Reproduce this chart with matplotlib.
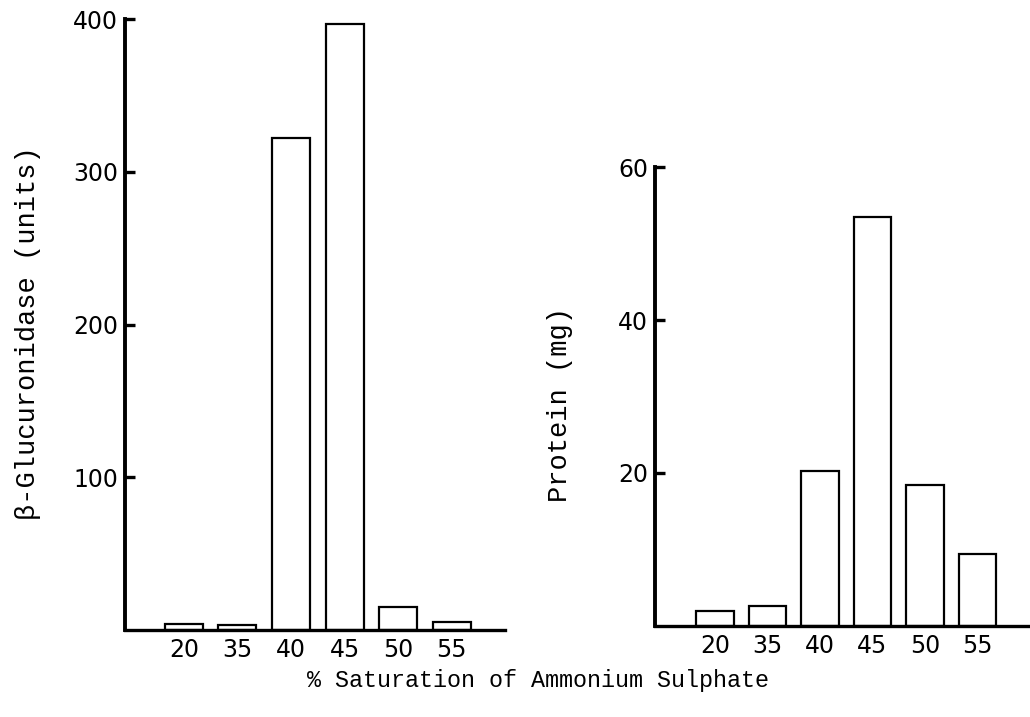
import matplotlib
matplotlib.use("Agg")
import matplotlib.pyplot as plt

# ammonium sulphate fractions
saturation = ["20", "35", "40", "45", "50", "55"]
glucuronidase = [4, 3, 322, 397, 15, 5]      # units
protein = [2.0, 2.6, 20.3, 53.5, 18.4, 9.4]  # mg

pos = list(range(1, len(saturation) + 1))
mono = "Liberation Mono"
tickfont = "DejaVu Sans"


def style(ax, yticks, ylim, xlim):
    ax.set_xticks(pos)
    ax.set_yticks(yticks)
    ax.set_xlim(*xlim)
    ax.set_ylim(*ylim)
    ax.set_xticklabels(saturation, family=tickfont, fontsize=17)
    ax.set_yticklabels([str(t) for t in yticks], family=tickfont, fontsize=17)
    for s in ["top", "right"]:
        ax.spines[s].set_visible(False)
    ax.spines["left"].set_linewidth(2.8)
    ax.spines["bottom"].set_linewidth(2.4)
    ax.tick_params(axis="y", direction="in", length=7, width=2.4, pad=5)
    ax.tick_params(axis="x", length=0, pad=6)


fig = plt.figure(figsize=(10.3, 7.17), dpi=100)

ax1 = fig.add_axes([0.1214, 0.1213, 0.369, 0.852])
ax1.bar(pos, glucuronidase, width=0.71, color="white", edgecolor="black", linewidth=1.6)
style(ax1, [100, 200, 300, 400], (0, 400), (-0.1, 7.0))

ax2 = fig.add_axes([0.636, 0.127, 0.364, 0.640])
ax2.bar(pos, protein, width=0.71, color="white", edgecolor="black", linewidth=1.6)
style(ax2, [20, 40, 60], (0, 60), (-0.14, 7.0))

fig.text(28 / 1030, 1 - 333 / 717, "\u03b2-Glucuronidase (units)", rotation=90,
         ha="center", va="center", family=mono, fontsize=19.5)
fig.text(560 / 1030, 1 - 405 / 717, "Protein (mg)", rotation=90,
         ha="center", va="center", family=mono, fontsize=19.5)
fig.text(538 / 1030, 1 - 681 / 717, "% Saturation of Ammonium Sulphate",
         ha="center", va="center", family=mono, fontsize=16.8)

fig.savefig("out.png", dpi=100)
